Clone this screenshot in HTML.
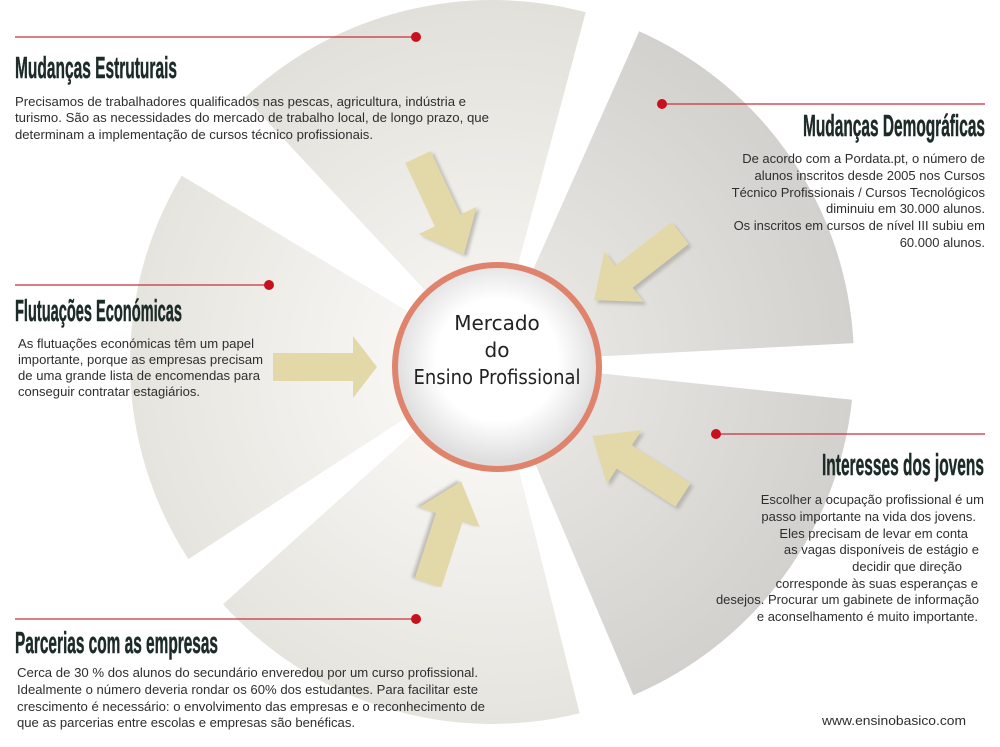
<!DOCTYPE html>
<html><head><meta charset="utf-8"><style>
html,body{margin:0;padding:0;background:#fff;}
svg{display:block;}
.h{font-family:"Liberation Sans Narrow","Liberation Sans",sans-serif;font-weight:bold;font-size:31px;fill:#1c2a28;stroke:#1c2a28;stroke-width:0.5;}
.t{font-family:"Liberation Sans",sans-serif;font-size:13px;fill:#2e2e2e;}
</style></head><body>
<svg width="1000" height="747" viewBox="0 0 1000 747" xmlns="http://www.w3.org/2000/svg">
<defs>
<radialGradient id="gL" gradientUnits="userSpaceOnUse" cx="492" cy="362" r="362">
<stop offset="0.3" stop-color="#f6f5f2"/><stop offset="1" stop-color="#e6e4de"/></radialGradient>
<radialGradient id="gT" gradientUnits="userSpaceOnUse" cx="492" cy="362" r="362">
<stop offset="0.3" stop-color="#f2f1ed"/><stop offset="1" stop-color="#e2e0da"/></radialGradient>
<radialGradient id="gD" gradientUnits="userSpaceOnUse" cx="492" cy="362" r="362">
<stop offset="0.3" stop-color="#e6e4e0"/><stop offset="1" stop-color="#d3d1cd"/></radialGradient>
<radialGradient id="gC" gradientUnits="userSpaceOnUse" cx="497" cy="360" r="102">
<stop offset="0.6" stop-color="#ffffff"/><stop offset="1" stop-color="#dedede"/></radialGradient>
<filter id="bl" x="-20%" y="-20%" width="140%" height="140%"><feGaussianBlur stdDeviation="1.5"/></filter>
</defs>
<path d="M492 362 L245 97.6 A362 362 0 0 1 585.7 12.3 Z" fill="url(#gT)"/>
<path d="M492 362 L639.2 31.3 A362 362 0 0 1 853.5 343.1 Z" fill="url(#gD)"/>
<path d="M492 362 L852 399.8 A362 362 0 0 1 633.4 695.2 Z" fill="url(#gD)"/>
<path d="M492 362 L579.6 713.2 A362 362 0 0 1 223 604.2 Z" fill="url(#gL)"/>
<path d="M492 362 L188.4 559.1 A362 362 0 0 1 181.7 175.6 Z" fill="url(#gL)"/>
<g>
<g transform="translate(421,159) rotate(64.9)"><polygon points="0,-14 70,-14 70,-32 108,0 70,32 70,14 0,14" fill="#a9a7a2" opacity="0.7" filter="url(#bl)"/></g>
<g transform="translate(418,157) rotate(64.9)"><polygon points="0,-14 70,-14 70,-32 108,0 70,32 70,14 0,14" fill="#e3d8a8"/></g>
<g transform="translate(683,236) rotate(142)"><polygon points="0,-14 71,-14 71,-32 109,0 71,32 71,14 0,14" fill="#a9a7a2" opacity="0.7" filter="url(#bl)"/></g>
<g transform="translate(680,233) rotate(142)"><polygon points="0,-14 71,-14 71,-32 109,0 71,32 71,14 0,14" fill="#e3d8a8"/></g>
<g transform="translate(273,367) rotate(0)"><polygon points="0,-14 80,-14 80,-31 104,0 80,31 80,14 0,14" fill="#e3d8a8"/></g>
<g transform="translate(686,498) rotate(213)"><polygon points="0,-14 70,-14 70,-32 108,0 70,32 70,14 0,14" fill="#a9a7a2" opacity="0.7" filter="url(#bl)"/></g>
<g transform="translate(683,495) rotate(213)"><polygon points="0,-14 70,-14 70,-32 108,0 70,32 70,14 0,14" fill="#e3d8a8"/></g>
<g transform="translate(425,582) rotate(-72)"><polygon points="0,-14 69,-14 69,-32 107,0 69,32 69,14 0,14" fill="#a9a7a2" opacity="0.7" filter="url(#bl)"/></g>
<g transform="translate(428,583) rotate(-72)"><polygon points="0,-14 69,-14 69,-32 107,0 69,32 69,14 0,14" fill="#e3d8a8"/></g>
</g>
<circle cx="497" cy="367" r="102" fill="url(#gC)" stroke="#e0836d" stroke-width="6"/>
<g font-family="'DejaVu Sans','Liberation Sans',sans-serif" font-size="20" fill="#222" text-anchor="middle">
<text x="497" y="330">Mercado</text>
<text x="497" y="357">do</text>
<text x="497" y="384" textLength="167" lengthAdjust="spacingAndGlyphs">Ensino Profissional</text>
</g>
<g stroke="#c8303c" stroke-width="1.3">
<line x1="15" y1="37" x2="416" y2="37"/>
<line x1="662" y1="104" x2="985" y2="104"/>
<line x1="15" y1="285" x2="269" y2="285"/>
<line x1="716" y1="434" x2="985" y2="434"/>
<line x1="15" y1="619" x2="416" y2="619"/>
</g>
<g fill="#c8101e">
<circle cx="416" cy="37" r="5"/><circle cx="662" cy="104" r="5"/><circle cx="269" cy="285" r="5"/>
<circle cx="716" cy="434" r="5"/><circle cx="416" cy="619" r="5"/>
</g>
<text class="h" x="15" y="78" textLength="162" lengthAdjust="spacingAndGlyphs">Mudanças Estruturais</text>
<text class="h" x="803" y="136" textLength="182" lengthAdjust="spacingAndGlyphs">Mudanças Demográficas</text>
<text class="h" x="15" y="321" textLength="167" lengthAdjust="spacingAndGlyphs">Flutuações Económicas</text>
<text class="h" x="822" y="475" textLength="162" lengthAdjust="spacingAndGlyphs">Interesses dos jovens</text>
<text class="h" x="15" y="653" textLength="203" lengthAdjust="spacingAndGlyphs">Parcerias com as empresas</text>
<g class="t">
<text class="t" x="15" y="106" textLength="451" lengthAdjust="spacingAndGlyphs">Precisamos de trabalhadores qualificados nas pescas, agricultura, indústria e</text>
<text class="t" x="15" y="122" textLength="474" lengthAdjust="spacingAndGlyphs">turismo. São as necessidades do mercado de trabalho local, de longo prazo, que</text>
<text class="t" x="15" y="139" textLength="358" lengthAdjust="spacingAndGlyphs">determinam a implementação de cursos técnico profissionais.</text>

<text class="t" x="985" y="163" text-anchor="end">De acordo com a Pordata.pt, o número de</text>
<text class="t" x="985" y="180" text-anchor="end">alunos inscritos desde 2005 nos Cursos</text>
<text class="t" x="985" y="197" text-anchor="end">Técnico Profissionais / Cursos Tecnológicos</text>
<text class="t" x="985" y="213" text-anchor="end">diminuiu em 30.000 alunos.</text>
<text class="t" x="985" y="230" text-anchor="end">Os inscritos em cursos de nível III subiu em</text>
<text class="t" x="985" y="247" text-anchor="end">60.000 alunos.</text>

<text class="t" x="18" y="348" textLength="236" lengthAdjust="spacingAndGlyphs">As flutuações económicas têm um papel</text>
<text class="t" x="18" y="364" textLength="245" lengthAdjust="spacingAndGlyphs">importante, porque as empresas precisam</text>
<text class="t" x="18" y="380" textLength="242" lengthAdjust="spacingAndGlyphs">de uma grande lista de encomendas para</text>
<text class="t" x="18" y="396" textLength="182" lengthAdjust="spacingAndGlyphs">conseguir contratar estagiários.</text>

<text class="t" x="984" y="504" text-anchor="end">Escolher a ocupação profissional é um</text>
<text class="t" x="976" y="521" text-anchor="end">passo importante na vida dos jovens.</text>
<text class="t" x="968" y="538" text-anchor="end">Eles precisam de levar em conta</text>
<text class="t" x="979" y="554" text-anchor="end">as vagas disponíveis de estágio e</text>
<text class="t" x="962" y="571" text-anchor="end">decidir que direção</text>
<text class="t" x="978" y="588" text-anchor="end">corresponde às suas esperanças e</text>
<text class="t" x="979" y="604" text-anchor="end">desejos. Procurar um gabinete de informação</text>
<text class="t" x="978" y="621" text-anchor="end">e aconselhamento é muito importante.</text>

<text class="t" x="17" y="677" textLength="461" lengthAdjust="spacingAndGlyphs">Cerca de 30 % dos alunos do secundário enveredou por um curso profissional.</text>
<text class="t" x="17" y="694" textLength="461" lengthAdjust="spacingAndGlyphs">Idealmente o número deveria rondar os 60% dos estudantes. Para facilitar este</text>
<text class="t" x="17" y="711" textLength="468" lengthAdjust="spacingAndGlyphs">crescimento é necessário: o envolvimento das empresas e o reconhecimento de</text>
<text class="t" x="17" y="727" textLength="338" lengthAdjust="spacingAndGlyphs">que as parcerias entre escolas e empresas são benéficas.</text>

<text class="t" x="822" y="725" textLength="144" lengthAdjust="spacingAndGlyphs">www.ensinobasico.com</text>
</g>
</svg>
</body></html>
